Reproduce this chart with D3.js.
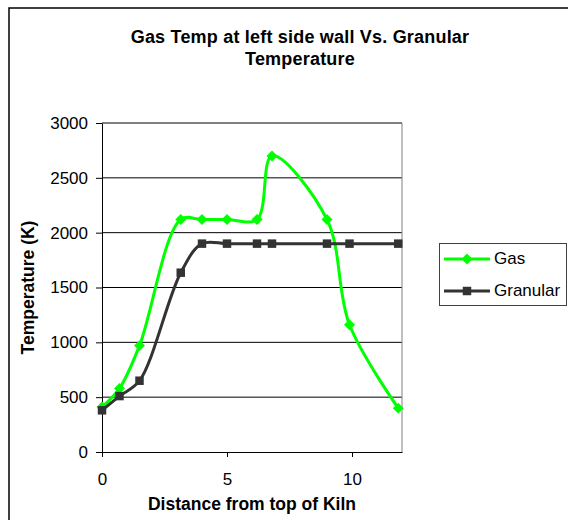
<!DOCTYPE html>
<html>
<head>
<meta charset="utf-8">
<script src="https://cdn.jsdelivr.net/npm/d3@7"></script>
<style>
  body { margin: 0; background: #fff; }
  text { font-family: "Liberation Sans", Arial, sans-serif; fill: #000; }
</style>
</head>
<body>
<div id="chart"></div>
<script>
// data
var distance = [0, 0.7, 1.5, 3.15, 4.0, 5.0, 6.2, 6.8, 9.0, 9.9, 11.85];
var gasTemp = [410, 580, 970, 2120, 2120, 2120, 2120, 2700, 2120, 1160, 400];
var granularTemp = [380, 510, 650, 1635, 1900, 1900, 1900, 1900, 1900, 1900, 1900];
var xTicks = [0, 5, 10];
var yTicks = [0, 500, 1000, 1500, 2000, 2500, 3000];
var seriesNames = ["Gas", "Granular"];

var width = 568;
var height = 520;
var plot = { left: 102, right: 402, top: 123, bottom: 452 };

var svg = d3.select("#chart")
  .append("svg")
  .attr("width", width)
  .attr("height", height);

// outer chart frame (runs off the right and bottom edge)
svg.append("rect")
  .attr("x", 9).attr("y", 8)
  .attr("width", 600).attr("height", 600)
  .attr("fill", "none")
  .attr("stroke", "#000")
  .attr("stroke-width", 1.5);

var x = d3.scaleLinear().domain([0, 12]).range([plot.left, plot.right]);
var y = d3.scaleLinear().domain([0, 3000]).range([plot.bottom, plot.top]);

// gridlines
svg.append("g")
  .selectAll("line")
  .data(yTicks.filter(d => d > 0))
  .enter()
  .append("line")
  .attr("x1", plot.left).attr("x2", plot.right)
  .attr("y1", d => y(d)).attr("y2", d => y(d))
  .attr("stroke", "#000")
  .attr("stroke-width", 1);

// right edge of plot area
svg.append("line")
  .attr("x1", plot.right).attr("x2", plot.right)
  .attr("y1", plot.top).attr("y2", plot.bottom)
  .attr("stroke", "#808080");

// axes
svg.append("g")
  .attr("transform", `translate(${plot.left},0)`)
  .call(d3.axisLeft(y).tickValues(yTicks).tickFormat(d3.format("d"))
    .tickSize(6).tickPadding(8).tickSizeOuter(0));
svg.append("g")
  .attr("transform", `translate(0,${plot.bottom})`)
  .call(d3.axisBottom(x).tickValues(xTicks).tickFormat(d3.format("d"))
    .tickSize(5).tickPadding(16).tickSizeOuter(0));

svg.selectAll(".tick text")
  .attr("font-size", 17)
  .attr("font-family", "'Liberation Sans', Arial, sans-serif")
  .attr("fill", "#000");
svg.selectAll(".domain, .tick line").attr("stroke", "#000");

// titles
var title = svg.append("text")
  .attr("x", 300)
  .attr("text-anchor", "middle")
  .attr("font-size", 18)
  .attr("font-weight", "bold")
  .attr("letter-spacing", 0.2);
title.append("tspan").attr("x", 300).attr("y", 43).text("Gas Temp at left side wall Vs. Granular");
title.append("tspan").attr("x", 300).attr("y", 65).text("Temperature");

svg.append("text")
  .attr("x", (plot.left + plot.right) / 2)
  .attr("y", 510)
  .attr("text-anchor", "middle")
  .attr("font-size", 17.5)
  .attr("font-weight", "bold")
  .text("Distance from top of Kiln");

svg.append("text")
  .attr("transform", `translate(34,${(plot.top + plot.bottom) / 2}) rotate(-90)`)
  .attr("text-anchor", "middle")
  .attr("font-size", 17.5)
  .attr("font-weight", "bold")
  .text("Temperature (K)");

// series (gas marker = square turned 45 degrees)
var series = [
  { name: seriesNames[0], values: gasTemp, color: "#00ff00", size: 60, rot: 45 },
  { name: seriesNames[1], values: granularTemp, color: "#333333", size: 72, rot: 0 }
];

var line = d3.line()
  .x(d => x(d[0]))
  .y(d => y(d[1]))
  .curve(d3.curveCatmullRom.alpha(0.5));

series.forEach(function(s) {
  var pts = distance.map((d, i) => [d, s.values[i]]);
  svg.append("path")
    .datum(pts)
    .attr("d", line)
    .attr("fill", "none")
    .attr("stroke", s.color)
    .attr("stroke-width", 3);
  svg.append("g")
    .selectAll("path")
    .data(pts)
    .enter()
    .append("path")
    .attr("d", d3.symbol().type(d3.symbolSquare).size(s.size))
    .attr("transform", d => `translate(${x(d[0])},${y(d[1])}) rotate(${s.rot})`)
    .attr("fill", s.color);
});

// legend
var legend = svg.append("g");
legend.append("rect")
  .attr("x", 439.5).attr("y", 243.5)
  .attr("width", 127).attr("height", 62)
  .attr("fill", "#fff")
  .attr("stroke", "#404040");

series.forEach(function(s, i) {
  var ly = 259 + i * 32;
  legend.append("line")
    .attr("x1", 444).attr("x2", 490)
    .attr("y1", ly).attr("y2", ly)
    .attr("stroke", s.color)
    .attr("stroke-width", 3);
  legend.append("path")
    .attr("d", d3.symbol().type(d3.symbolSquare).size(s.size)())
    .attr("transform", `translate(467,${ly}) rotate(${s.rot})`)
    .attr("fill", s.color);
  legend.append("text")
    .attr("x", 494)
    .attr("y", ly + 5)
    .attr("font-size", 17)
    .text(s.name);
});
</script>
</body>
</html>
